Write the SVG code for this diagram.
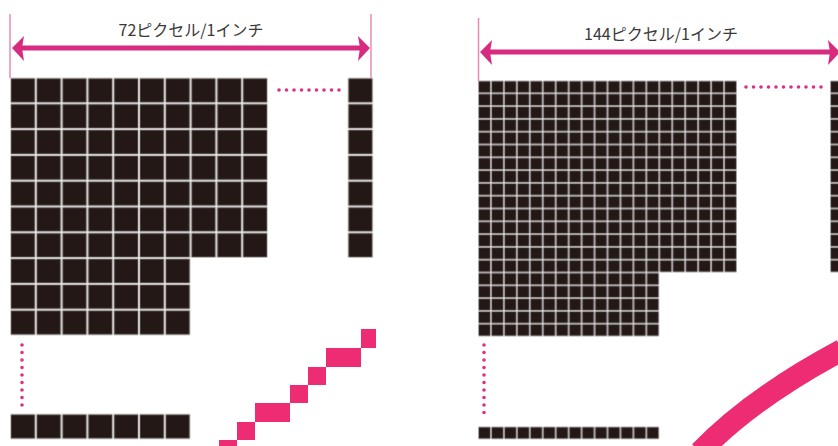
<svg xmlns="http://www.w3.org/2000/svg" width="838" height="446" viewBox="0 0 838 446">
<style>
.lbl{font-family:"Noto Sans CJK JP","Noto Sans",sans-serif;font-size:16px;fill:#3a3a3a;text-anchor:middle}
.tick{stroke:#e98ab6;stroke-width:1.5;fill:none}
.arr{stroke:#d62b7f;stroke-width:5;fill:none}
.head{fill:#d62b7f}
.dots{stroke:#dc2f86;stroke-width:3.6;stroke-linecap:round;stroke-dasharray:0 7.5;fill:none}
.stair{fill:#ee2c74}
</style>
<defs>
<pattern id="pL" patternUnits="userSpaceOnUse" x="0" y="0" width="25.8" height="25.8">
<rect width="25.8" height="25.8" fill="#ffffff"/>
<rect x="1" y="1" width="23.8" height="23.8" fill="#231815" stroke="#7a7574" stroke-width="0.8"/>
</pattern>
<pattern id="pR" patternUnits="userSpaceOnUse" x="0" y="0" width="12.95" height="12.8">
<rect width="12.95" height="12.8" fill="#ffffff"/>
<rect x="0.8" y="0.8" width="11.35" height="11.2" fill="#231815" stroke="#7a7574" stroke-width="0.7"/>
</pattern>
</defs>
<rect width="838" height="446" fill="#ffffff"/>

<g id="panel-72">
<text class="lbl" x="191" y="36">72ピクセル/1インチ</text>
<g id="grid-72-main" transform="translate(10,77.5)">
<path d="M0,0 H258 V180.6 H180.6 V258 H0 Z" fill="url(#pL)"/>
</g>
<g id="grid-72-col" transform="translate(347.5,77.5)">
<rect x="0" y="0" width="25.8" height="180.6" fill="url(#pL)"/>
</g>
<g id="grid-72-row" transform="translate(10,413.6)">
<rect x="0" y="0" width="180.6" height="25.8" fill="url(#pL)"/>
</g>
<g id="stair-72">
<rect class="stair" x="361" y="329" width="15" height="19"/>
<rect class="stair" x="326" y="348" width="35" height="19"/>
<rect class="stair" x="308" y="367" width="18" height="18"/>
<rect class="stair" x="290" y="385" width="18" height="18"/>
<rect class="stair" x="255" y="403" width="35" height="19"/>
<rect class="stair" x="237" y="422" width="18" height="18"/>
<rect class="stair" x="219" y="440" width="18" height="6"/>
</g>
</g>

<g id="panel-144">
<text class="lbl" x="661" y="40">144ピクセル/1インチ</text>
<g id="grid-144-main" transform="translate(478,80.5)">
<path d="M0,0 H259 V192 H181.3 V256 H0 Z" fill="url(#pR)"/>
</g>
<g id="grid-144-col" transform="translate(830,80.5)">
<rect x="0" y="0" width="12.95" height="192" fill="url(#pR)"/>
</g>
<g id="grid-144-row" transform="translate(478,426.5)">
<rect x="0" y="0" width="181.3" height="12.8" fill="url(#pR)"/>
</g>
<g id="curve-144">
<path d="M700,452 Q752,398 842,350" stroke="#ee2c74" stroke-width="22" fill="none"/>
</g>
</g>

<g id="connectors">
<line class="tick" x1="10" y1="14" x2="10" y2="78"/>
<line class="tick" x1="371" y1="14" x2="371" y2="78"/>
<line class="arr" x1="20" y1="48" x2="362" y2="48"/>
<path class="head" d="M12,48 L24,36 L22,48 L24,61 Z"/>
<path class="head" d="M370,48 L358,36 L360,48 L358,61 Z"/>

<line class="tick" x1="478.5" y1="18" x2="478.5" y2="81"/>
<line class="arr" x1="488" y1="52" x2="834" y2="52"/>
<path class="head" d="M480,52 L492,40 L490,52 L492,65 Z"/>
<path class="head" d="M840,52 L828,40 L830,52 L828,65 Z"/>

<line class="dots" x1="279" y1="90" x2="339.5" y2="90"/>
<line class="dots" x1="22" y1="345" x2="22" y2="405.5"/>
<line class="dots" x1="746" y1="87" x2="822" y2="87"/>
<line class="dots" x1="484" y1="345" x2="484" y2="419.5"/>
</g>
</svg>
